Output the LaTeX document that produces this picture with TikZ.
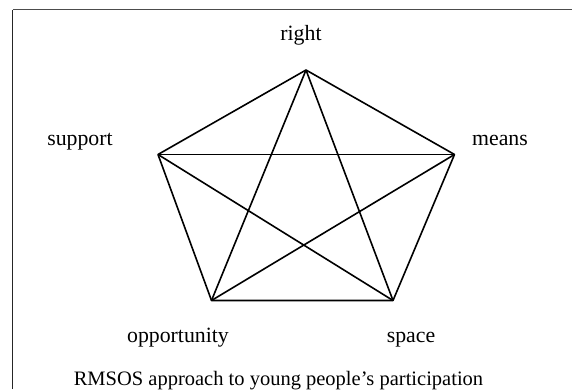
\documentclass[tikz,border=0pt]{standalone}
\usepackage{fontspec}
\setmainfont{Liberation Serif}
\begin{document}
\begin{tikzpicture}[x=1pt,y=-1pt,
  lbl/.style={anchor=base,inner sep=0pt,font=\fontsize{21.8}{24}\selectfont},
  captext/.style={anchor=base,inner sep=0pt,font=\fontsize{20.5}{23}\selectfont},
  pedge/.style={draw=black,line width=1.6pt,line join=round},
  frameleft/.style={draw=black!85,line width=1.7pt},
  frametop/.style={draw=black!70,line width=1.1pt}]
\useasboundingbox (0,0) rectangle (572,389);
% frame
\coordinate (fbl) at (12.5,389);
\coordinate (ftl) at (12.5,9.5);
\coordinate (ftr) at (572,9.5);
\draw[frameleft] (fbl) -- (ftl);
\draw[frametop] (ftl) -- (ftr);
% vertices
\coordinate (R) at (306,70);
\coordinate (M) at (454.5,154.5);
\coordinate (S) at (158,154.5);
\coordinate (O) at (211.5,300.5);
\coordinate (P) at (393,300.5);
% pentagon
\draw[pedge] (R) -- (M) -- (P) -- (O) -- (S) -- cycle;
% star
\draw[pedge] (R) -- (O);
\draw[pedge] (R) -- (P);
\draw[pedge] (S) -- (M);
\draw[pedge] (S) -- (P);
\draw[pedge] (M) -- (O);
% labels
\node[lbl] (lr) at (301,40) {right};
\node[lbl] (ls) at (80,145) {support};
\node[lbl] (lm) at (500,145) {means};
\node[lbl] (lo) at (178,342) {opportunity};
\node[lbl] (lp) at (411,342) {space};
\node[captext] (lc) at (278.5,385) {RMSOS approach to young people’s participation};
\end{tikzpicture}
\end{document}
